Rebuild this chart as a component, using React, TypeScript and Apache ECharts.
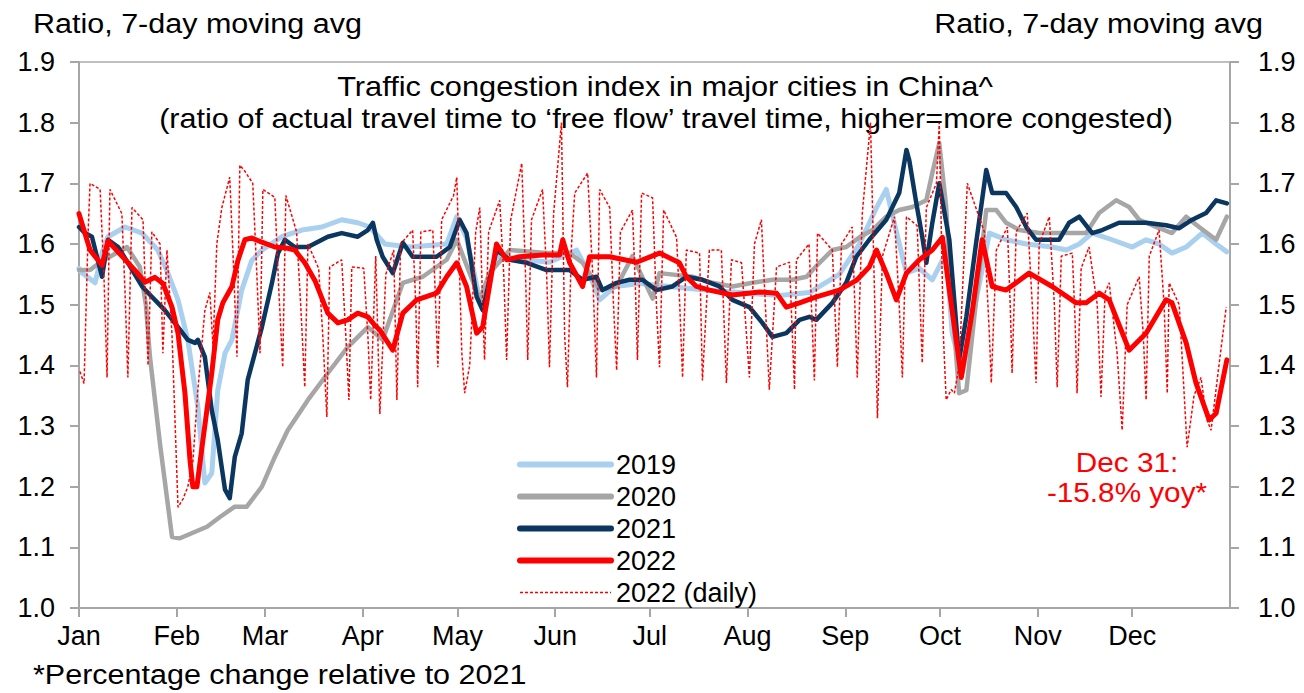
import React, { useEffect, useRef } from 'react';
import * as echarts from 'echarts';

// Day-of-year (0 = Jan 1) at which each month starts, and month tick labels
const monthStarts = [0, 31, 59, 90, 120, 151, 181, 212, 243, 273, 304, 334];
const monthNames = ['Jan', 'Feb', 'Mar', 'Apr', 'May', 'Jun', 'Jul', 'Aug', 'Sep', 'Oct', 'Nov', 'Dec'];

const seriesNames = ['2019', '2020', '2021', '2022', '2022 (daily)'];

// 7-day moving averages, [day of year, ratio]
const s2019: [number, number][] = [
  [0, 1.56], [1, 1.552], [5.1, 1.536], [7.6, 1.59], [9.2, 1.612], [14.6, 1.628], [20, 1.618], [25, 1.59],
  [28.2, 1.552], [31.4, 1.508], [34.5, 1.442], [37.7, 1.331], [39.9, 1.206], [42.1, 1.222], [44, 1.359],
  [46.3, 1.42], [48.5, 1.442], [51.6, 1.524], [54.8, 1.573], [58, 1.59], [64.3, 1.612], [70.7, 1.623],
  [77, 1.628], [83.3, 1.64], [88.4, 1.635], [92.2, 1.628], [97, 1.6], [104.9, 1.595], [116.6, 1.6],
  [119.8, 1.645], [122.9, 1.61], [127.1, 1.508], [132.4, 1.58], [139.7, 1.575], [149.2, 1.57],
  [157.8, 1.59], [161.9, 1.55], [165.1, 1.508], [170, 1.53], [177.8, 1.535], [187.3, 1.53],
  [196.8, 1.525], [209.4, 1.52], [222.1, 1.515], [231.6, 1.52], [241.1, 1.55], [247.5, 1.6],
  [252.9, 1.66], [256, 1.69], [259.2, 1.62], [262.4, 1.552], [266.5, 1.56], [270.6, 1.541],
  [275, 1.585], [276.9, 1.453], [280.1, 1.387], [284.5, 1.508], [288.7, 1.618], [294, 1.607],
  [300.4, 1.6], [308.6, 1.595], [313.1, 1.59], [317.2, 1.6], [321.3, 1.618], [327.6, 1.607],
  [334, 1.595], [338.4, 1.607], [342.5, 1.6], [346.6, 1.585], [351.1, 1.595], [356.2, 1.618],
  [360.6, 1.6], [364, 1.587],
];

const s2020: [number, number][] = [
  [0, 1.557], [3.5, 1.557], [6.7, 1.57], [15.2, 1.595], [19.3, 1.562], [21.2, 1.5], [22.5, 1.414],
  [25.7, 1.27], [29.5, 1.117], [32, 1.115], [36.1, 1.124], [40.6, 1.134], [44.7, 1.15], [49.4, 1.167],
  [53.2, 1.167], [58, 1.2], [62.1, 1.249], [66.2, 1.293], [72.6, 1.343], [78.9, 1.387], [85.2, 1.43],
  [91.6, 1.463], [96.3, 1.442], [102.7, 1.536], [109, 1.546], [116.6, 1.574], [119.8, 1.607],
  [127.1, 1.508], [130.2, 1.552], [136.6, 1.59], [148.3, 1.585], [155.6, 1.585], [159.7, 1.569],
  [165.1, 1.524], [170.5, 1.53], [175.5, 1.58], [181.9, 1.51], [184.1, 1.552], [194.6, 1.546],
  [200.9, 1.536], [207.2, 1.53], [213.6, 1.536], [219.9, 1.541], [226.2, 1.541], [230.7, 1.546],
  [234.8, 1.569], [238.9, 1.59], [243.3, 1.595], [247.5, 1.611], [251.6, 1.623], [256, 1.645],
  [260.1, 1.656], [264.3, 1.661], [268.7, 1.672], [270.6, 1.717], [272.8, 1.766], [275, 1.661],
  [276, 1.562], [279.1, 1.354], [281.4, 1.359], [284.5, 1.508], [287.7, 1.656], [290.9, 1.656],
  [294, 1.635], [298.2, 1.623], [304.5, 1.618], [319.4, 1.618], [323.5, 1.651], [328.9, 1.672],
  [333, 1.661], [336.2, 1.64], [341.6, 1.628], [346.6, 1.618], [351.1, 1.645], [355.2, 1.628],
  [360.6, 1.607], [364, 1.645],
];

const s2021: [number, number][] = [
  [0, 1.628], [1.9, 1.618], [4.1, 1.612], [7.3, 1.546], [9.2, 1.607], [12.4, 1.595], [15.5, 1.569],
  [20, 1.53], [23.1, 1.513], [27.2, 1.491], [31.4, 1.463], [34.5, 1.442], [36.8, 1.437], [37.7, 1.442],
  [39.9, 1.414], [42.1, 1.326], [44, 1.277], [46.3, 1.195], [47.8, 1.181], [49.4, 1.249], [51.6, 1.288],
  [53.5, 1.376], [58, 1.463], [61.2, 1.536], [63.1, 1.585], [65.3, 1.607], [68.4, 1.595], [72.6, 1.595],
  [78.9, 1.612], [83.3, 1.618], [88.4, 1.612], [91.6, 1.623], [93.2, 1.635], [94.4, 1.607],
  [96.3, 1.579], [99.5, 1.552], [102.7, 1.602], [105.8, 1.579], [113.4, 1.579], [117.6, 1.595],
  [120.7, 1.64], [122.9, 1.618], [126.1, 1.513], [128, 1.491], [130.2, 1.541], [132.4, 1.59],
  [136.6, 1.574], [142, 1.569], [148.3, 1.557], [155.6, 1.557], [159.7, 1.541], [164.1, 1.546],
  [166, 1.524], [170.5, 1.536], [174.6, 1.541], [178.7, 1.541], [183.1, 1.524], [188.2, 1.53],
  [192.6, 1.546], [197.7, 1.541], [203.1, 1.53], [207.2, 1.508], [212.6, 1.496], [216.7, 1.47],
  [219.9, 1.447], [224.3, 1.453], [228.5, 1.475], [231.6, 1.48], [233.8, 1.475], [238.9, 1.503],
  [243.3, 1.536], [246.5, 1.579], [250.6, 1.607], [256, 1.64], [260.1, 1.684], [262.4, 1.755],
  [263.3, 1.738], [265.5, 1.668], [267.4, 1.612], [268.7, 1.569], [270.6, 1.635], [272.8, 1.7],
  [276, 1.607], [279.1, 1.409], [281.4, 1.48], [284.5, 1.602], [287.7, 1.722], [289.6, 1.684],
  [294, 1.684], [297.2, 1.661], [300.4, 1.628], [303.5, 1.607], [310.8, 1.607], [314, 1.635],
  [317.2, 1.645], [321.3, 1.618], [324.5, 1.623], [329.8, 1.635], [338.4, 1.635], [344.7, 1.631],
  [348.9, 1.626], [353, 1.64], [357.4, 1.651], [360.6, 1.672], [364, 1.667],
];

const s2022: [number, number][] = [
  [0, 1.65], [3.5, 1.59], [7.3, 1.565], [9.2, 1.605], [13.6, 1.58], [17.7, 1.557], [20.9, 1.537],
  [24.1, 1.545], [26.6, 1.535], [29.5, 1.496], [31.4, 1.453], [33.6, 1.354], [35.2, 1.244], [36.1, 1.2],
  [37.4, 1.2], [39.3, 1.277], [42.1, 1.387], [44, 1.475], [45.6, 1.503], [48.5, 1.53], [50.4, 1.573],
  [52.6, 1.607], [54.8, 1.61], [58, 1.603], [62.1, 1.595], [66.2, 1.593], [68.4, 1.59], [71.6, 1.569],
  [74.8, 1.54], [78.9, 1.486], [82.1, 1.47], [85.2, 1.475], [88.4, 1.486], [91.6, 1.48], [93.8, 1.466],
  [95.4, 1.458], [99.5, 1.425], [102.7, 1.486], [107.1, 1.508], [113.4, 1.519], [116.6, 1.546],
  [119.8, 1.569], [122.9, 1.53], [126.1, 1.453], [128, 1.463], [132.4, 1.6], [135.6, 1.574],
  [139.7, 1.579], [147, 1.582], [152.4, 1.582], [153.4, 1.607], [155.6, 1.569], [159.7, 1.53],
  [161.9, 1.579], [168.3, 1.579], [176.8, 1.57], [184.1, 1.585], [190.4, 1.569], [192.6, 1.546],
  [195.8, 1.53], [199.9, 1.524], [207.2, 1.516], [215.8, 1.521], [221.2, 1.519], [224.3, 1.496],
  [228.5, 1.503], [233.8, 1.513], [241.1, 1.524], [246.5, 1.54], [250.6, 1.562], [252.9, 1.59],
  [256, 1.552], [259.2, 1.508], [262.4, 1.552], [266.5, 1.574], [270.6, 1.59], [273.8, 1.611],
  [276, 1.524], [279.8, 1.38], [283.3, 1.49], [286.4, 1.607], [289.6, 1.53], [294, 1.524],
  [301.3, 1.552], [308.6, 1.53], [316.2, 1.503], [319.4, 1.503], [323.5, 1.519], [326.7, 1.508],
  [333, 1.425], [338.4, 1.453], [344.7, 1.508], [346.6, 1.503], [351.1, 1.437], [354.2, 1.371],
  [358.4, 1.31], [360.6, 1.321], [364, 1.409],
];

// Daily 2022 readings (weekday highs, weekend / holiday lows)
const s2022Daily: [number, number][] = [
  [0.3, 1.39], [1.6, 1.37], [2.9, 1.62], [3.5, 1.7], [6.7, 1.69], [7.9, 1.55], [8.9, 1.38], [9.8, 1.69],
  [13.6, 1.65], [14.6, 1.52], [15.5, 1.38], [16.8, 1.66], [20.3, 1.64], [21.2, 1.5], [21.9, 1.4],
  [23.1, 1.62], [25.7, 1.6], [26.6, 1.42], [27.9, 1.59], [29.5, 1.45], [31.4, 1.166], [33, 1.18],
  [34.5, 1.2], [36.1, 1.24], [37.7, 1.36], [39.9, 1.49], [41.5, 1.52], [42.5, 1.43], [43.7, 1.6],
  [45.3, 1.66], [47.8, 1.71], [49.1, 1.55], [50.1, 1.414], [51, 1.73], [52.6, 1.72], [55.1, 1.7],
  [56.4, 1.55], [57.4, 1.42], [58.3, 1.69], [62.1, 1.677], [63.4, 1.52], [64.6, 1.397], [65.6, 1.68],
  [69, 1.62], [70.3, 1.5], [71.6, 1.364], [72.6, 1.6], [76, 1.56], [77.3, 1.45], [78.6, 1.315],
  [79.5, 1.562], [83.3, 1.574], [84.6, 1.45], [85.6, 1.343], [86.5, 1.562], [90.3, 1.56], [91.6, 1.45],
  [92.5, 1.343], [94.1, 1.58], [95.4, 1.32], [97.3, 1.55], [99.8, 1.59], [100.8, 1.343], [102, 1.6],
  [105.8, 1.623], [106.8, 1.5], [107.4, 1.364], [108.4, 1.62], [112.2, 1.623], [113.1, 1.5],
  [113.8, 1.397], [115, 1.64], [118.8, 1.68], [119.8, 1.71], [121.4, 1.42], [122.3, 1.354],
  [123.9, 1.4], [125.8, 1.62], [127.1, 1.66], [128, 1.5], [128.6, 1.409], [129.9, 1.62], [133.4, 1.672],
  [134.7, 1.55], [135.6, 1.409], [136.9, 1.64], [140.4, 1.733], [141.6, 1.55], [142.3, 1.409],
  [143.5, 1.64], [147, 1.69], [148.3, 1.55], [149.2, 1.397], [150.5, 1.65], [153, 1.8], [154, 1.45],
  [154.9, 1.364], [156.2, 1.6], [157.2, 1.684], [161.3, 1.717], [162.9, 1.55], [164.1, 1.38],
  [165.1, 1.69], [168.3, 1.66], [169.5, 1.5], [170.5, 1.392], [171.7, 1.62], [175.5, 1.656],
  [176.5, 1.52], [177.1, 1.409], [178.4, 1.684], [181.9, 1.676], [183.1, 1.5], [184.1, 1.397],
  [185.4, 1.656], [189.5, 1.611], [190.5, 1.5], [191.4, 1.38], [192.6, 1.59], [196.8, 1.585],
  [197.7, 1.375], [199.9, 1.59], [203.7, 1.59], [205.3, 1.371], [206.9, 1.574], [210.1, 1.569],
  [212.6, 1.38], [214.2, 1.6], [216.4, 1.64], [218.9, 1.36], [221.2, 1.562], [225.3, 1.57],
  [226.9, 1.36], [227.5, 1.574], [231.5, 1.6], [233.2, 1.375], [234.2, 1.618], [238.9, 1.59],
  [240.5, 1.397], [241.8, 1.6], [245.2, 1.628], [246.8, 1.38], [248.4, 1.651], [251, 1.8],
  [253.2, 1.313], [254.8, 1.58], [258.6, 1.645], [260.1, 1.5], [261.1, 1.38], [262.4, 1.645],
  [265.8, 1.63], [267.4, 1.404], [268.7, 1.66], [271.9, 1.7], [272.8, 1.8], [274.1, 1.45],
  [275, 1.343], [276.6, 1.36], [277.6, 1.354], [279.1, 1.4], [281.7, 1.7], [287.1, 1.62],
  [288.7, 1.45], [289.3, 1.371], [290.9, 1.59], [294.4, 1.628], [295.3, 1.5], [295.9, 1.387],
  [297.2, 1.62], [300.7, 1.651], [302.3, 1.5], [303.5, 1.371], [304.5, 1.6], [307.7, 1.645],
  [309.3, 1.5], [310.2, 1.364], [311.5, 1.58], [315, 1.585], [315.9, 1.47], [316.5, 1.354],
  [317.8, 1.56], [320.3, 1.595], [322.9, 1.5], [324.1, 1.348], [325.4, 1.52], [326.7, 1.536],
  [329.2, 1.42], [330.8, 1.293], [332.4, 1.5], [336.2, 1.546], [337.5, 1.45], [338.4, 1.343],
  [339.4, 1.58], [342.5, 1.623], [344.1, 1.5], [345.1, 1.354], [345.7, 1.536], [348.9, 1.5],
  [351.4, 1.265], [353.6, 1.35], [355.8, 1.38], [357.7, 1.31], [359, 1.293], [361.5, 1.4],
  [363.8, 1.496],
];

const FONT = '"Liberation Sans", Arial, sans-serif';

const C2019 = '#a9d0ef';
const C2020 = '#a6a6a6';
const C2021 = '#0b365f';
const C2022 = '#ff0000';

export default function App() {
  const ref = useRef<HTMLDivElement>(null);

  useEffect(() => {
    const chart = echarts.init(ref.current!, null, { renderer: 'svg' });
    const axisGray = '#a6a6a6';
    const yAxisBase = {
      type: 'value',
      min: 1.0,
      max: 1.9,
      interval: 0.1,
      splitLine: { show: false },
      axisLine: { show: true, lineStyle: { color: axisGray, width: 2 } },
      axisTick: { show: true, length: 9, lineStyle: { color: axisGray, width: 2 } },
    };
    const hiddenSymbol = { color: 'rgba(0,0,0,0)', opacity: 0, borderWidth: 0 };
    const textFont = `27px ${FONT}`;
    chart.setOption({
      animation: false,
      textStyle: { fontFamily: FONT },
      grid: {
        left: 79,
        right: 74,
        top: 62,
        bottom: 85,
        show: true,
        borderColor: '#bfbfbf',
        borderWidth: 2,
        backgroundColor: 'transparent',
      },
      legend: {
        orient: 'vertical',
        left: 517,
        top: 451,
        padding: 0,
        itemWidth: 91,
        itemHeight: 24,
        itemGap: 5,
        data: [
          { name: seriesNames[0], itemStyle: hiddenSymbol, lineStyle: { width: 6, color: C2019, cap: 'round' } },
          { name: seriesNames[1], itemStyle: hiddenSymbol, lineStyle: { width: 6, color: C2020, cap: 'round' } },
          { name: seriesNames[2], itemStyle: hiddenSymbol, lineStyle: { width: 6, color: C2021, cap: 'round' } },
          { name: seriesNames[3], itemStyle: hiddenSymbol, lineStyle: { width: 6, color: C2022, cap: 'round' } },
          { name: seriesNames[4], itemStyle: hiddenSymbol, lineStyle: { width: 1.5, color: C2022, type: [3, 2] } },
        ],
        textStyle: { fontSize: 27, color: '#000', fontFamily: FONT },
      },
      xAxis: {
        type: 'value',
        min: 0,
        max: 365,
        splitLine: { show: false },
        axisLine: { show: true, lineStyle: { color: axisGray, width: 2 } },
        axisTick: { show: true, length: 9, customValues: monthStarts, lineStyle: { color: axisGray, width: 2 } },
        axisLabel: {
          customValues: monthStarts,
          margin: 14,
          fontSize: 27,
          color: '#000',
          fontFamily: FONT,
          formatter: (v: number) => monthNames[monthStarts.indexOf(Math.round(v))] ?? '',
        },
      },
      yAxis: [
        {
          ...yAxisBase,
          position: 'left',
          axisLabel: { margin: 24, fontSize: 27, color: '#000', fontFamily: FONT, formatter: (v: number) => v.toFixed(1) },
        },
        {
          ...yAxisBase,
          position: 'right',
          axisLabel: { margin: 28, fontSize: 27, color: '#000', fontFamily: FONT, formatter: (v: number) => v.toFixed(1) },
        },
      ],
      series: [
        {
          name: seriesNames[0], type: 'line', data: s2019, symbol: 'none',
          lineStyle: { color: C2019, width: 5, cap: 'round', join: 'round' }, itemStyle: { color: C2019 },
        },
        {
          name: seriesNames[1], type: 'line', data: s2020, symbol: 'none',
          lineStyle: { color: C2020, width: 4.5, cap: 'round', join: 'round' }, itemStyle: { color: C2020 },
        },
        {
          name: seriesNames[2], type: 'line', data: s2021, symbol: 'none',
          lineStyle: { color: C2021, width: 4.5, cap: 'round', join: 'round' }, itemStyle: { color: C2021 },
        },
        {
          name: seriesNames[4], type: 'line', data: s2022Daily, symbol: 'none',
          lineStyle: { color: C2022, width: 1.5, type: [3, 2] }, itemStyle: { color: C2022 },
        },
        {
          name: seriesNames[3], type: 'line', data: s2022, symbol: 'none',
          lineStyle: { color: C2022, width: 5, cap: 'round', join: 'round' }, itemStyle: { color: C2022 },
        },
      ],
      graphic: [
        {
          type: 'text', x: 33, y: 24, scaleX: 1.13,
          style: { text: 'Ratio, 7-day moving avg', font: textFont, fill: '#000', align: 'left', verticalAlign: 'middle' },
        },
        {
          type: 'text', x: 1263, y: 24, scaleX: 1.13,
          style: { text: 'Ratio, 7-day moving avg', font: textFont, fill: '#000', align: 'right', verticalAlign: 'middle' },
        },
        {
          type: 'text', x: 665, y: 87, scaleX: 1.14,
          style: { text: 'Traffic congestion index in major cities in China^', font: textFont, fill: '#000', align: 'center', verticalAlign: 'middle' },
        },
        {
          type: 'text', x: 666, y: 119, scaleX: 1.134,
          style: { text: '(ratio of actual travel time to \u2018free flow\u2019 travel time, higher=more congested)', font: textFont, fill: '#000', align: 'center', verticalAlign: 'middle' },
        },
        {
          type: 'text', x: 1127, y: 462, scaleX: 1.1,
          style: { text: 'Dec 31:', font: textFont, fill: C2022, align: 'center', verticalAlign: 'middle' },
        },
        {
          type: 'text', x: 1127, y: 492, scaleX: 1.1,
          style: { text: '-15.8% yoy*', font: textFont, fill: C2022, align: 'center', verticalAlign: 'middle' },
        },
        {
          type: 'text', x: 33, y: 675, scaleX: 1.13,
          style: { text: '*Percentage change relative to 2021', font: textFont, fill: '#000', align: 'left', verticalAlign: 'middle' },
        },
      ],
    });
    return () => chart.dispose();
  }, []);

  return <div ref={ref} style={{ position: 'absolute', left: 0, top: 0, width: 1304, height: 693 }} />;
}
